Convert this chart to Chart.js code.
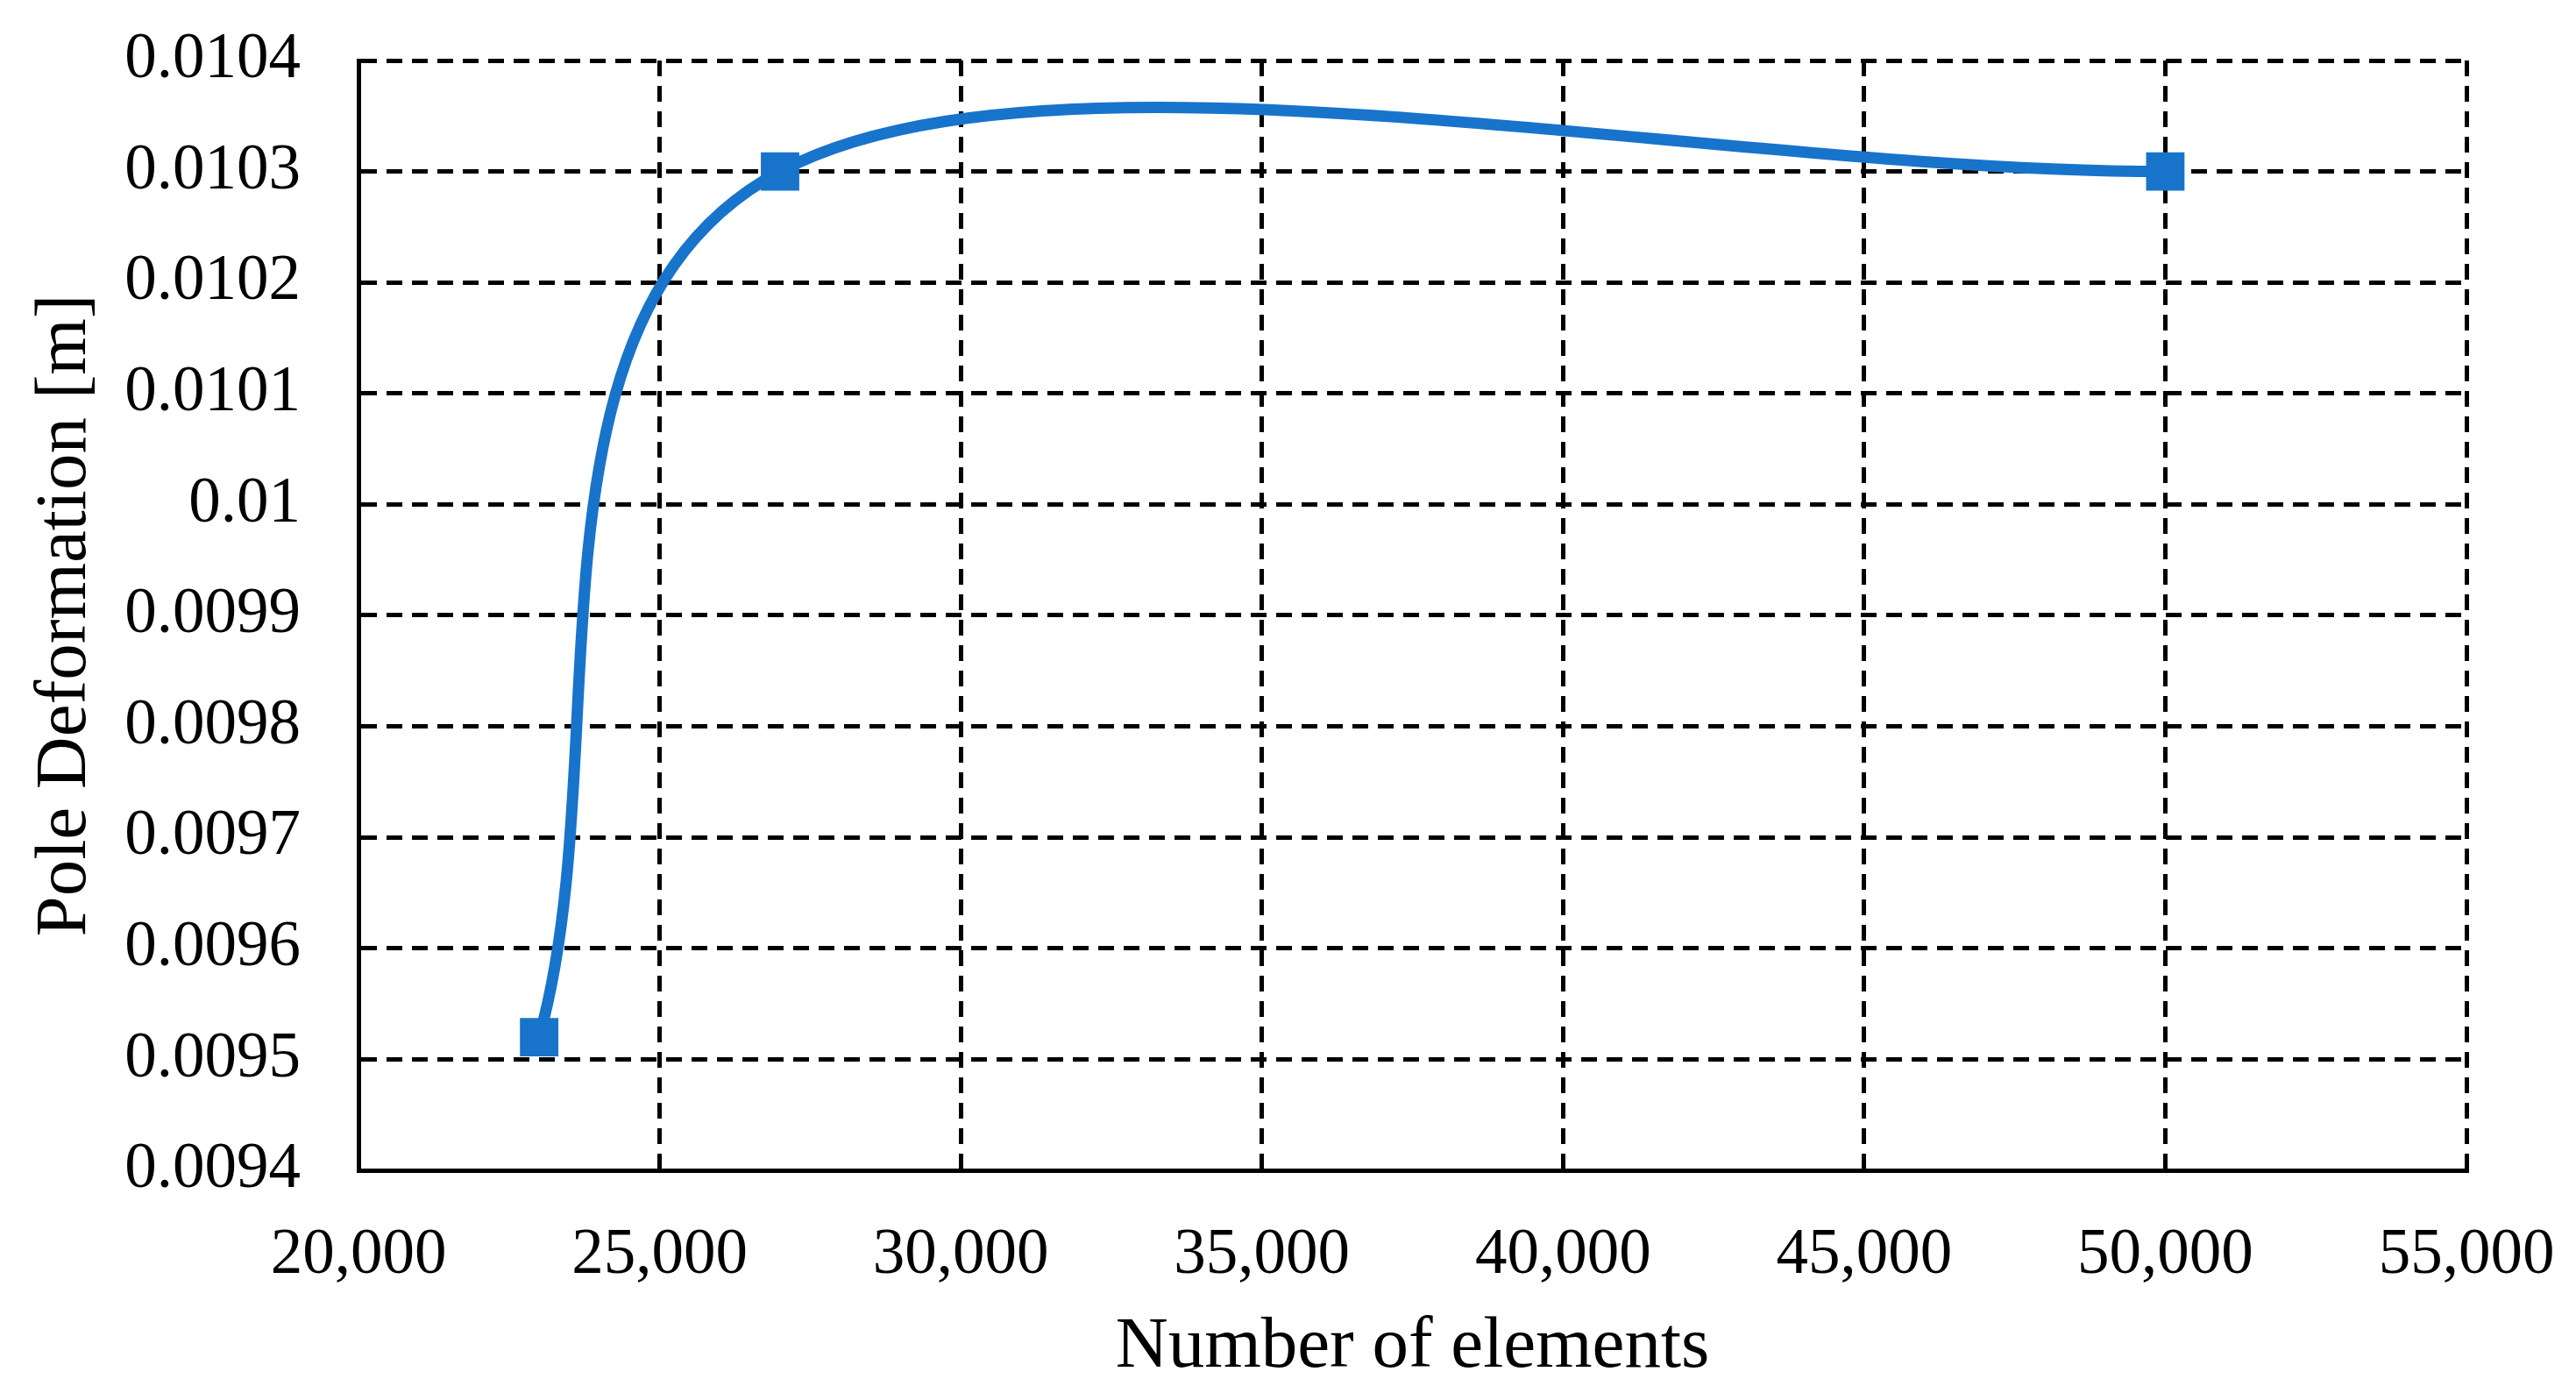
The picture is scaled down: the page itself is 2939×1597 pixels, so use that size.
<!DOCTYPE html>
<html>
<head>
<meta charset="utf-8">
<script src="https://cdn.jsdelivr.net/npm/chart.js@4.4.1/dist/chart.umd.min.js"></script>
<style>
  html, body { margin: 0; padding: 0; background: #fff; }
  #wrap { width: 2939px; height: 1597px; }
</style>
</head>
<body>
<div id="wrap"><canvas id="c" width="2939" height="1597"></canvas></div>
<script>
// 요소 수에 따른 폴 변형량 (mesh 수렴 확인용)
const elementCounts = [23000, 27000, 50000];
const poleDeformation = [0.00952, 0.0103, 0.0103];
const xTicks = [20000, 25000, 30000, 35000, 40000, 45000, 50000, 55000];
const yTicks = [0.0094, 0.0095, 0.0096, 0.0097, 0.0098, 0.0099, 0.01, 0.0101, 0.0102, 0.0103, 0.0104];

const FONT = '"Liberation Serif", "Times New Roman", serif';
const BLUE = '#1874CB';

// 눈금 라벨 overflow 때문에 plot 영역이 줄어드는 걸 막는다 — 여백은 layout.padding으로만 잡음
const noOverflow = (s) => { s.paddingTop = 0; s.paddingBottom = 0; s.paddingLeft = 0; s.paddingRight = 0; };

// Excel "smoothed line"처럼 Catmull-Rom(1/6) 제어점을 쓴다. 끝점은 반사된 가상점 기준.
// Chart.js 기본 tension은 거리 비례라 첫 구간이 덜 휘어서 이걸로 덮어씀.
const excelSpline = {
  id: 'excelSpline',
  beforeDatasetsDraw(chart) {
    chart.getSortedVisibleDatasetMetas().forEach((meta) => {
      if (meta.type !== 'line') return;
      meta.dataset.updateControlPoints(chart.chartArea, 'x');
      const pts = meta.data;
      pts.forEach((p, i) => {
        const prev = pts[i - 1] || { x: 2 * p.x - pts[i + 1].x, y: 2 * p.y - pts[i + 1].y };
        const next = pts[i + 1] || { x: 2 * p.x - prev.x, y: 2 * p.y - prev.y };
        const dx = (next.x - prev.x) / 6;
        const dy = (next.y - prev.y) / 6;
        p.cp1x = p.x - dx; p.cp1y = p.y - dy;
        p.cp2x = p.x + dx; p.cp2y = p.y + dy;
      });
    });
  },
};

const chart = new Chart(document.getElementById('c'), {
  type: 'line',
  data: {
    datasets: [{
      data: elementCounts.map((x, i) => ({ x, y: poleDeformation[i] })),
      borderColor: BLUE, backgroundColor: BLUE, borderWidth: 13,
      tension: 0.3, fill: false,
      pointStyle: 'rect', pointRadius: 31, pointBorderWidth: 0,
      pointBackgroundColor: BLUE,
    }],
  },
  options: {
    responsive: false, animation: false,
    layout: { padding: { left: 0, right: 125, top: 69, bottom: 0 } },
    elements: { line: { capBezierPoints: false } },
    plugins: { legend: { display: false }, tooltip: { enabled: false } },
    scales: {
      x: {
        type: 'linear', min: 20000, max: 55000,
        afterBuildTicks: (s) => { s.ticks = xTicks.map((v) => ({ value: v })); },
        afterFit: (s) => { s.height = 262; noOverflow(s); },
        ticks: {
          padding: 54, color: '#000', font: { family: FONT, size: 73 },
          callback: (v) => v.toLocaleString('en-US'),
        },
        grid: { color: '#000', lineWidth: 5, drawTicks: false },
        border: { display: true, color: '#000', width: 5, dash: [18, 11] },
        title: {
          display: true, text: 'Number of elements', color: '#000',
          font: { family: FONT, size: 83 }, padding: { top: 0, bottom: 10 },
        },
      },
      y: {
        type: 'linear', min: 0.0094, max: 0.0104,
        afterBuildTicks: (s) => { s.ticks = yTicks.map((v) => ({ value: v })); },
        afterFit: (s) => { s.width = 409; noOverflow(s); },
        ticks: {
          padding: 66, color: '#000', font: { family: FONT, size: 73 },
          callback: (v) => String(parseFloat(v.toFixed(4))),
        },
        grid: { color: '#000', lineWidth: 5, drawTicks: false },
        border: { display: true, color: '#000', width: 5, dash: [18, 11] },
        title: {
          display: true, text: 'Pole Deformation [m]', color: '#000',
          font: { family: FONT, size: 83 }, padding: { top: 25, bottom: 0 },
        },
      },
    },
  },
  plugins: [excelSpline],
});
</script>
</body>
</html>
